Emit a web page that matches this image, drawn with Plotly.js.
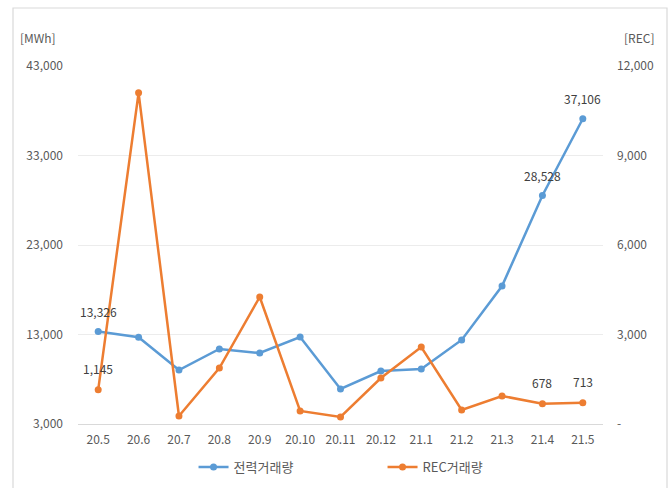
<!DOCTYPE html>
<html>
<head>
<meta charset="utf-8">
<script src="https://cdn.plot.ly/plotly-3.0.1.min.js"></script>
<style>html,body{margin:0;padding:0;background:#fff;}#chart{width:672px;height:488px;}</style>
</head>
<body>
<div id="chart"></div>
<script>
var months = ['20.5','20.6','20.7','20.8','20.9','20.10','20.11','20.12','21.1','21.2','21.3','21.4','21.5'];
var powerTrade = [13326, 12700, 9030, 11380, 10930, 12720, 6910, 8920, 9150, 12390, 18420, 28528, 37106];
var recTrade = [1145, 11100, 268, 1877, 4257, 436, 235, 1542, 2581, 469, 939, 678, 713];
var labelIdx = [0, 11, 12];
var leftTicks = [3000, 13000, 23000, 33000, 43000];
var rightTicks = [0, 3000, 6000, 9000, 12000];
var rightTickText = ['-', '3,000', '6,000', '9,000', '12,000'];
var seriesNames = ['전력거래량', 'REC거래량'];

var FONT = '"Noto Sans CJK KR", "Noto Sans", sans-serif';
function fmt(v){ return String(v).replace(/\B(?=(\d{3})+(?!\d))/g, ','); }

var traces = [
  {x: months, y: powerTrade, name: seriesNames[0], type: 'scatter', mode: 'lines+markers',
   line: {color: '#5B9BD5', width: 2.5}, marker: {color: '#5B9BD5', size: 7}, yaxis: 'y'},
  {x: months, y: recTrade, name: seriesNames[1], type: 'scatter', mode: 'lines+markers',
   line: {color: '#ED7D31', width: 2.5}, marker: {color: '#ED7D31', size: 7}, yaxis: 'y2'}
];

var annotations = [];
labelIdx.forEach(function(i){
  annotations.push({x: i, y: powerTrade[i], xref: 'x', yref: 'y', text: fmt(powerTrade[i]),
    showarrow: false, xanchor: 'center', yanchor: 'middle', yshift: 20,
    font: {family: FONT, size: 12, color: '#404040'}});
  annotations.push({x: i, y: recTrade[i], xref: 'x', yref: 'y2', text: fmt(recTrade[i]),
    showarrow: false, xanchor: 'center', yanchor: 'middle', yshift: 21,
    font: {family: FONT, size: 12, color: '#404040'}});
});
annotations.push({x: -0.076, y: 1.081, xref: 'paper', yref: 'paper', text: '[MWh]', showarrow: false,
  xanchor: 'center', yanchor: 'middle', font: {family: FONT, size: 12, color: '#595959'}});
annotations.push({x: 1.069, y: 1.081, xref: 'paper', yref: 'paper', text: '[REC]', showarrow: false,
  xanchor: 'center', yanchor: 'middle', font: {family: FONT, size: 12, color: '#595959'}});

var layout = {
  width: 672, height: 488,
  margin: {l: 78, r: 69, t: 66, b: 64},
  paper_bgcolor: '#ffffff', plot_bgcolor: '#ffffff',
  font: {family: FONT, size: 12, color: '#595959'},
  showlegend: true,
  legend: {orientation: 'h', xref: 'container', yref: 'container', x: 0.288, xanchor: 'left',
    y: 0.043, yanchor: 'middle', entrywidth: 144, font: {family: FONT, size: 13, color: '#595959'}},
  xaxis: {type: 'category', range: [-0.5, 12.5], showgrid: false, zeroline: false,
    showline: true, linecolor: '#d9d9d9', linewidth: 1, ticks: '', fixedrange: true,
    ticklabelstandoff: 5, tickfont: {family: FONT, size: 12, color: '#595959'}},
  yaxis: {range: [3000, 43000], tickvals: leftTicks, ticktext: leftTicks.map(fmt),
    showgrid: true, gridcolor: '#ececec', zeroline: false, ticks: '', showline: false,
    ticklabelstandoff: 14, tickfont: {family: FONT, size: 12, color: '#595959'}},
  yaxis2: {range: [0, 12000], tickvals: rightTicks, ticktext: rightTickText, overlaying: 'y', side: 'right',
    showgrid: false, zeroline: false, ticks: '', showline: false,
    ticklabelstandoff: 13, tickfont: {family: FONT, size: 12, color: '#595959'}},
  annotations: annotations,
  shapes: [
    {type: 'rect', xref: 'paper', yref: 'paper', x0: -0.1238, x1: 1.1219, y0: -0.2, y1: 1.162,
     line: {color: '#d9d9d9', width: 1.2}, layer: 'below'}
  ]
};

Plotly.newPlot('chart', traces, layout, {displayModeBar: false, staticPlot: true});
</script>
</body>
</html>
